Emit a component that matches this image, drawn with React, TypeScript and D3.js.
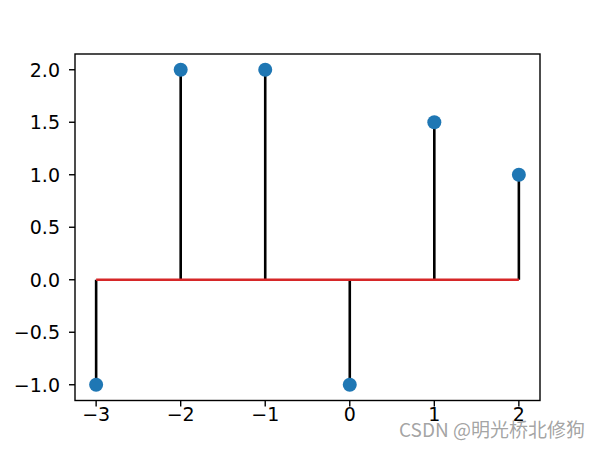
import React from "react";
import * as d3 from "d3";

const xs: number[] = [-3, -2, -1, 0, 1, 2];
const ys: number[] = [-1, 2, 2, -1, 1.5, 1];
const xTicks: number[] = [-3, -2, -1, 0, 1, 2];
const yTicks: number[] = [-1.0, -0.5, 0.0, 0.5, 1.0, 1.5, 2.0];
const watermark = "CSDN @明光桥北修狗";

const fmtX = (v: number) => (v < 0 ? "\u2212" + Math.abs(v) : String(v));
const fmtY = (v: number) => (v < 0 ? "\u2212" + Math.abs(v).toFixed(1) : v.toFixed(1));

export default function App() {
  React.useEffect(() => {
    document.body.style.margin = "0";
  }, []);
  const W = 600, H = 450;
  const left = 75, right = 540, top = 54, bottom = 400.5;
  const x = d3.scaleLinear().domain([-3.25, 2.25]).range([left, right]);
  const y = d3.scaleLinear().domain([-1.15, 2.15]).range([bottom, top]);
  const font = "DejaVu Sans, sans-serif";
  return (
    <svg width={W} height={H} style={{ display: "block" }}>
      <rect x={0} y={0} width={W} height={H} fill="#fff" />
      {xs.map((xv, i) => (
        <line key={"s" + i} x1={x(xv)} x2={x(xv)} y1={y(0)} y2={y(ys[i])} stroke="#000" strokeWidth={2.6} />
      ))}
      <line x1={x(d3.min(xs)!)} x2={x(d3.max(xs)!)} y1={y(0)} y2={y(0)} stroke="#d62728" strokeWidth={2.6} />
      {xs.map((xv, i) => (
        <circle key={"m" + i} cx={x(xv)} cy={y(ys[i])} r={7} fill="#1f77b4" />
      ))}
      <rect x={left} y={top} width={right - left} height={bottom - top} fill="none" stroke="#000" strokeWidth={1.4} />
      {xTicks.map((t) => (
        <g key={"xt" + t}>
          <line x1={x(t)} x2={x(t)} y1={bottom} y2={bottom + 6} stroke="#000" strokeWidth={1.4} />
          <text x={x(t)} y={bottom + 20} textAnchor="middle" fontFamily={font} fontSize={19} fill="#000">{fmtX(t)}</text>
        </g>
      ))}
      {yTicks.map((t) => (
        <g key={"yt" + t}>
          <line x1={left - 6} x2={left} y1={y(t)} y2={y(t)} stroke="#000" strokeWidth={1.4} />
          <text x={left - 15} y={y(t)} dy="0.36em" textAnchor="end" fontFamily={font} fontSize={19} fill="#000">{fmtY(t)}</text>
        </g>
      ))}
      <text x={585} y={437} textAnchor="end" fontFamily="Noto Sans CJK SC, Noto Sans, sans-serif" fontSize={19} fill="#999" fillOpacity={0.9}>{watermark}</text>
    </svg>
  );
}
